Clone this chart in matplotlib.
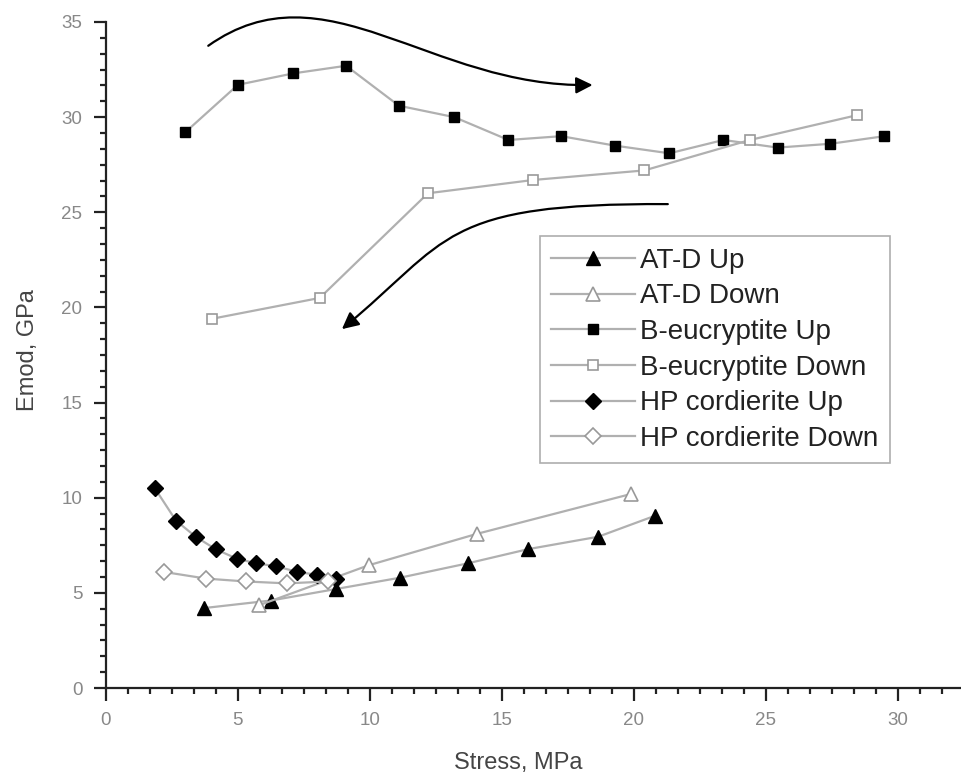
import matplotlib
matplotlib.use("Agg")
import matplotlib.pyplot as plt
from matplotlib.path import Path
from matplotlib.patches import FancyArrowPatch
from matplotlib.ticker import MultipleLocator

plt.rcParams['font.family'] = ['Liberation Sans', 'DejaVu Sans']

# data
atd_up_x = [3.7, 6.25, 8.7, 11.15, 13.7, 16.0, 18.65, 20.8]
atd_up_y = [4.2, 4.6, 5.2, 5.8, 6.55, 7.3, 7.95, 9.05]
atd_down_x = [5.8, 9.95, 14.05, 19.9]
atd_down_y = [4.35, 6.45, 8.1, 10.2]
beu_up_x = [3.0, 5.0, 7.1, 9.1, 11.1, 13.2, 15.25, 17.25, 19.3, 21.35, 23.4, 25.45, 27.45, 29.5]
beu_up_y = [29.2, 31.7, 32.3, 32.7, 30.6, 30.0, 28.8, 29.0, 28.5, 28.1, 28.8, 28.4, 28.6, 29.0]
beu_down_x = [4.0, 8.1, 12.2, 16.2, 20.4, 24.4, 28.45]
beu_down_y = [19.4, 20.5, 26.0, 26.7, 27.2, 28.8, 30.1]
hp_up_x = [1.85, 2.65, 3.4, 4.15, 4.95, 5.7, 6.45, 7.25, 8.0, 8.7]
hp_up_y = [10.5, 8.8, 7.95, 7.3, 6.8, 6.55, 6.4, 6.1, 5.95, 5.75]
hp_down_x = [2.2, 3.8, 5.3, 6.85, 8.4]
hp_down_y = [6.1, 5.75, 5.6, 5.5, 5.6]

fig = plt.figure(figsize=(9.61, 7.8), dpi=100)
ax = fig.add_axes([0.1103, 0.1179, 0.8897, 0.8539])

line_c = '#b0b0b0'
open_c = '#999999'

ax.plot(atd_up_x, atd_up_y, color=line_c, lw=1.6, marker='^', ms=10,
        mfc='black', mec='black', label='AT-D Up')
ax.plot(atd_down_x, atd_down_y, color=line_c, lw=1.6, marker='^', ms=10,
        mfc='white', mec=open_c, mew=1.2, label='AT-D Down')
ax.plot(beu_up_x, beu_up_y, color=line_c, lw=1.6, marker='s', ms=7.5,
        mfc='black', mec='black', label='B-eucryptite Up')
ax.plot(beu_down_x, beu_down_y, color=line_c, lw=1.6, marker='s', ms=7.5,
        mfc='white', mec=open_c, mew=1.2, label='B-eucryptite Down')
ax.plot(hp_up_x, hp_up_y, color=line_c, lw=1.6, marker='D', ms=8.5,
        mfc='black', mec='black', label='HP cordierite Up')
ax.plot(hp_down_x, hp_down_y, color=line_c, lw=1.6, marker='D', ms=8.5,
        mfc='white', mec=open_c, mew=1.2, label='HP cordierite Down')

# curved arrows
p1 = Path([(3.875, 33.75), (8.3, 38.1), (12.27, 31.53), (18.44, 31.69)],
          [Path.MOVETO, Path.CURVE4, Path.CURVE4, Path.CURVE4])
a1 = FancyArrowPatch(path=p1, arrowstyle='-|>', mutation_scale=25, lw=1.6,
                     color='black', shrinkA=0, shrinkB=0, clip_on=False)
ax.add_patch(a1)
p2 = Path([(21.29, 25.43), (12.65, 25.49), (13.03, 23.54), (8.94, 18.86)],
          [Path.MOVETO, Path.CURVE4, Path.CURVE4, Path.CURVE4])
a2 = FancyArrowPatch(path=p2, arrowstyle='-|>', mutation_scale=25, lw=1.6,
                     color='black', shrinkA=0, shrinkB=0, clip_on=False)
ax.add_patch(a2)

ax.set_xlim(0, 32.4)
ax.set_ylim(0, 35)
ax.xaxis.set_major_locator(MultipleLocator(5))
ax.yaxis.set_major_locator(MultipleLocator(5))
ax.xaxis.set_minor_locator(MultipleLocator(5 / 6))
ax.yaxis.set_minor_locator(MultipleLocator(5 / 6))

for s in ['top', 'right']:
    ax.spines[s].set_visible(False)
for s in ['left', 'bottom']:
    ax.spines[s].set_linewidth(1.6)
    ax.spines[s].set_color('#222222')

ax.tick_params(which='major', direction='out', length=9, width=1.6,
               color='#222222', labelsize=13.5, labelcolor='#888888', pad=8)
ax.tick_params(which='minor', direction='out', length=4.5, width=1.6,
               color='#222222')

ax.set_xlabel('Stress, MPa', fontsize=17, color='#444444')
ax.set_ylabel('Emod, GPa', fontsize=17, color='#444444')
ax.xaxis.set_label_coords(0.482, -0.1126)
ax.yaxis.set_label_coords(-0.0912, 0.5075)
ax.xaxis.label.set_va('center')
ax.yaxis.label.set_va('center')

leg = ax.legend(loc='upper left', bbox_to_anchor=(0.508, 0.678), fontsize=20,
                frameon=True, fancybox=False, edgecolor='#999999',
                handlelength=3.0, handletextpad=0.2, labelspacing=0.35,
                borderpad=0.4, borderaxespad=0)
leg.get_frame().set_linewidth(1.2)
for t in leg.get_texts():
    t.set_color('#222222')

fig.savefig('out.png', dpi=100)
